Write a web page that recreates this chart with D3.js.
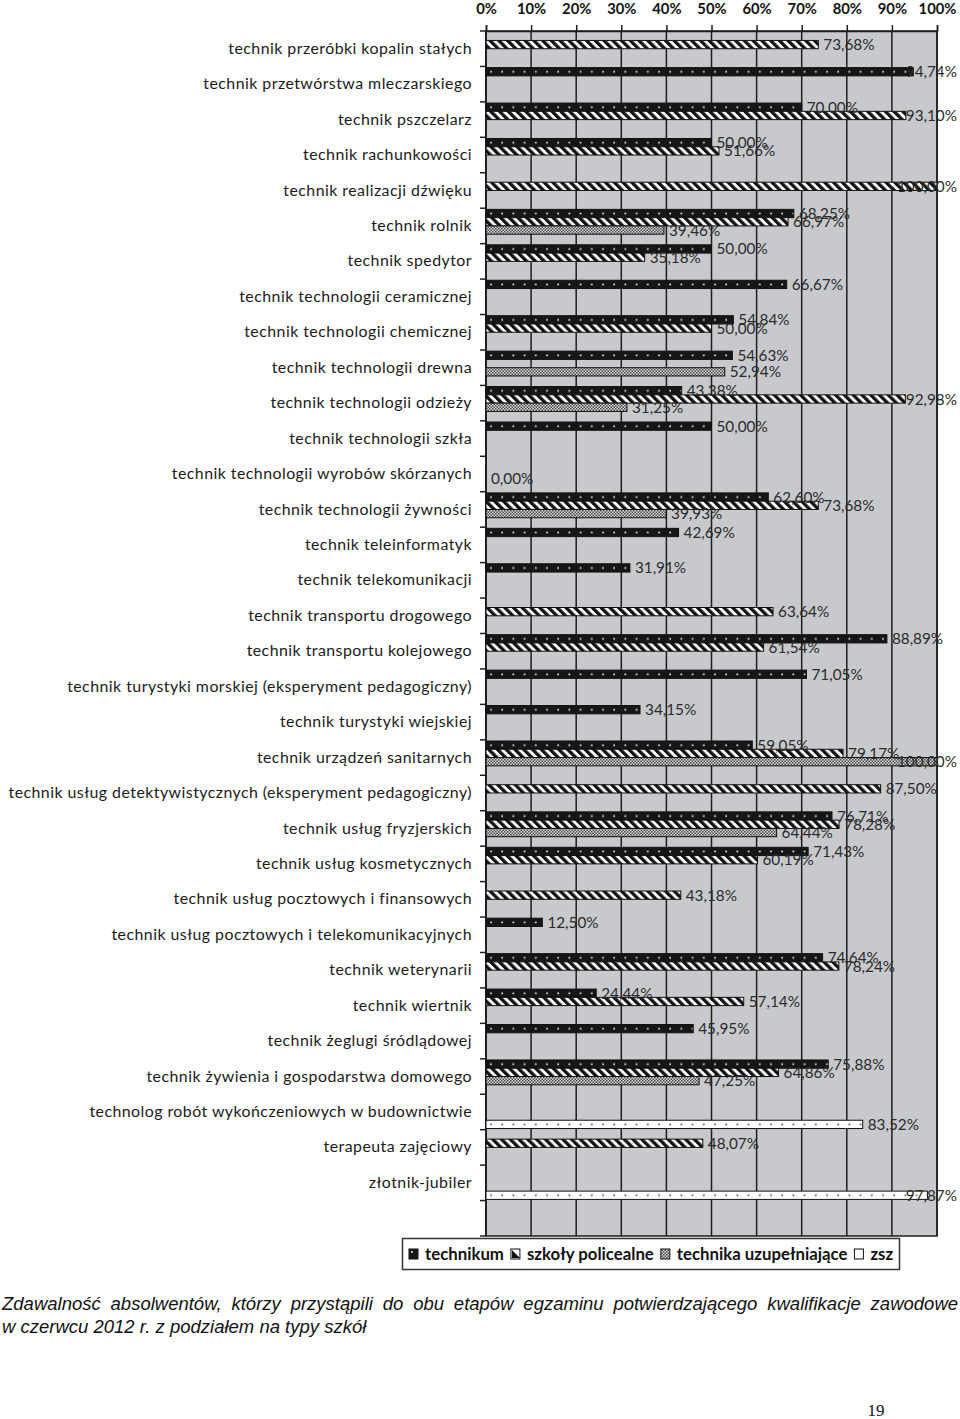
<!DOCTYPE html>
<html><head><meta charset="utf-8">
<script src="https://cdn.jsdelivr.net/npm/d3@7"></script>
<style>
html,body{margin:0;padding:0;background:#fff;}
svg{display:block;}
</style></head>
<body>
<svg id="chart" width="960" height="1419"></svg>
<script>
// ---------- DATA ----------
const categories = [
 "technik przeróbki kopalin stałych",
 "technik przetwórstwa mleczarskiego",
 "technik pszczelarz",
 "technik rachunkowości",
 "technik realizacji dźwięku",
 "technik rolnik",
 "technik spedytor",
 "technik technologii ceramicznej",
 "technik technologii chemicznej",
 "technik technologii drewna",
 "technik technologii odzieży",
 "technik technologii szkła",
 "technik technologii wyrobów skórzanych",
 "technik technologii żywności",
 "technik teleinformatyk",
 "technik telekomunikacji",
 "technik transportu drogowego",
 "technik transportu kolejowego",
 "technik turystyki morskiej (eksperyment pedagogiczny)",
 "technik turystyki wiejskiej",
 "technik urządzeń sanitarnych",
 "technik usług detektywistycznych (eksperyment pedagogiczny)",
 "technik usług fryzjerskich",
 "technik usług kosmetycznych",
 "technik usług pocztowych i finansowych",
 "technik usług pocztowych i telekomunikacyjnych",
 "technik weterynarii",
 "technik wiertnik",
 "technik żeglugi śródlądowej",
 "technik żywienia i gospodarstwa domowego",
 "technolog robót wykończeniowych w budownictwie",
 "terapeuta zajęciowy",
 "złotnik-jubiler",
 ""
];
const seriesNames = ["technikum","szkoły policealne","technika uzupełniające","zsz"];
const technikum = [null,94.74,70.00,50.00,null,68.25,50.00,66.67,54.84,54.63,43.38,50.00,null,62.60,42.69,31.91,null,88.89,71.05,34.15,59.05,null,76.71,71.43,null,12.50,74.64,24.44,45.95,75.88,null,null,null,null];
const policealne = [73.68,null,93.10,51.66,100.00,66.97,35.18,null,50.00,null,92.98,null,null,73.68,null,null,63.64,61.54,null,null,79.17,87.50,78.28,60.19,43.18,null,78.24,57.14,null,64.86,null,48.07,null,null];
const uzupelniajace = [null,null,null,null,null,39.46,null,null,null,52.94,31.25,null,0.00,39.93,null,null,null,null,null,null,100.00,null,64.44,null,null,null,null,null,null,47.25,null,null,null,null];
const zsz = [null,null,null,null,null,null,null,null,null,null,null,null,null,null,null,null,null,null,null,null,null,null,null,null,null,null,null,null,null,null,83.52,null,97.87,null];
const xTicks = [0,10,20,30,40,50,60,70,80,90,100];
const captionLines = [
 "Zdawalność absolwentów, którzy przystąpili do obu etapów egzaminu potwierdzającego kwalifikacje zawodowe",
 "w czerwcu 2012 r. z podziałem na typy szkół"
];
const pageNumber = "19";

// ---------- LAYOUT ----------
const svg = d3.select("#chart");
const L = 486, R = 937, T = 31, B = 1236;
const x = d3.scaleLinear().domain([0,100]).range([L,R]);
const y = d3.scaleBand().domain(categories.map((c,i)=>i)).range([T,B]).paddingInner(0).paddingOuter(0);
const inner = d3.scaleBand().domain(seriesNames).range([0,y.bandwidth()]).paddingInner(0).paddingOuter(0.14);
const seriesData = [technikum, policealne, uzupelniajace, zsz];
const labelFont = "Lato, 'Open Sans', sans-serif";

const defs = svg.append("defs");
function rowDots(id, bg, dot, sName){
  const p = defs.append("pattern").attr("id",id).attr("patternUnits","userSpaceOnUse")
    .attr("x",L+3).attr("y",T).attr("width",11.2).attr("height",y.step());
  p.append("rect").attr("width",11.2).attr("height",y.step()).attr("fill",bg);
  p.append("circle").attr("cx",2).attr("cy",inner(sName)+inner.bandwidth()/2).attr("r",0.9).attr("fill",dot);
}
rowDots("pTech","#161616","#ffffff","technikum");
rowDots("pZsz","#ffffff","#333333","zsz");
const ps = defs.append("pattern").attr("id","pPol").attr("patternUnits","userSpaceOnUse")
  .attr("width",6.2).attr("height",10).attr("patternTransform","rotate(-45)");
ps.append("rect").attr("width",6.2).attr("height",10).attr("fill","#fff");
ps.append("rect").attr("width",3.3).attr("height",10).attr("fill","#111");
const pc = defs.append("pattern").attr("id","pUzu").attr("patternUnits","userSpaceOnUse")
  .attr("width",3).attr("height",3);
pc.append("rect").attr("width",3).attr("height",3).attr("fill","#dedede");
pc.append("rect").attr("x",0).attr("y",0).attr("width",1.5).attr("height",1.5).attr("fill","#444");
pc.append("rect").attr("x",1.5).attr("y",1.5).attr("width",1.5).attr("height",1.5).attr("fill","#444");
const fills = ["url(#pTech)","url(#pPol)","url(#pUzu)","url(#pZsz)"];

svg.append("rect").attr("x",L).attr("y",T).attr("width",R-L).attr("height",B-T)
  .attr("fill","#c8c9cc");
svg.append("g").selectAll("line").data(xTicks).join("line")
  .attr("x1",d=>x(d)).attr("x2",d=>x(d)).attr("y1",T).attr("y2",B)
  .attr("stroke","#1e1e1e").attr("stroke-width",1.5);
svg.append("rect").attr("x",L).attr("y",T).attr("width",R-L).attr("height",B-T)
  .attr("fill","none").attr("stroke","#1e1e1e").attr("stroke-width",1.5);

const xAxis = d3.axisTop(x).tickValues(xTicks).tickFormat(d=>d+"%").tickSize(6).tickPadding(11);
const gx = svg.append("g").attr("transform",`translate(0,${T})`).call(xAxis);
gx.select(".domain").attr("stroke","#1e1e1e").attr("stroke-width",1.5);
gx.selectAll(".tick line").attr("stroke","#1e1e1e").attr("stroke-width",1.5);
gx.selectAll("text").attr("font-family",labelFont).attr("font-weight","bold")
  .attr("font-size",14.8).attr("fill","#111");

const yAxis = d3.axisLeft(y).tickFormat(i=>categories[i]).tickSize(0).tickPadding(14);
const gy = svg.append("g").attr("transform",`translate(${L},0)`).call(yAxis);
gy.select(".domain").remove();
gy.selectAll("text").attr("font-family",labelFont).attr("font-size",15.9)
  .attr("fill","#1a1a1a").attr("letter-spacing","0.46px");
const bounds = categories.map((c,i)=>y(i)).concat([B]);
svg.append("g").selectAll("line").data(bounds).join("line")
  .attr("x1",L-6).attr("x2",L).attr("y1",d=>d).attr("y2",d=>d)
  .attr("stroke","#1e1e1e").attr("stroke-width",1.5);
svg.append("line").attr("x1",L).attr("x2",L).attr("y1",T).attr("y2",B)
  .attr("stroke","#1e1e1e").attr("stroke-width",1.5);

const bars = [];
seriesData.forEach((arr,s)=>{
  arr.forEach((v,i)=>{ if(v!==null) bars.push({s, i, v}); });
});
svg.append("g").selectAll("rect").data(bars).join("rect")
  .attr("x",x(0)).attr("y",d=>y(d.i)+inner(seriesNames[d.s]))
  .attr("width",d=>x(d.v)-x(0)).attr("height",inner.bandwidth())
  .attr("fill",d=>fills[d.s]).attr("stroke",d=>d.v>0?"#111":"none").attr("stroke-width",1);

const fmt = v => v.toFixed(2).replace(".",",")+"%";
svg.append("g").selectAll("text").data(bars).join("text")
  .attr("font-family",labelFont).attr("font-size",15.3).attr("fill","#2b2b2b")
  .attr("y",d=>y(d.i)+inner(seriesNames[d.s])+inner.bandwidth()/2)
  .attr("dy","0.36em")
  .text(d=>fmt(d.v))
  .attr("x",function(d){
    const w = this.getComputedTextLength();
    return Math.min(x(d.v)+5, 957-w);
  });

// legend
const lg = svg.append("g");
lg.append("rect").attr("x",402.5).attr("y",1238.5).attr("width",497).attr("height",31)
  .attr("fill","#fff").attr("stroke","#333").attr("stroke-width",1.5);
let lx = 409;
const legendFills = ["#161616","#fff","url(#pUzu)","#fff"];
seriesNames.forEach((n,k)=>{
  const g = lg.append("g");
  g.append("rect").attr("x",lx).attr("y",1249).attr("width",9).attr("height",10)
    .attr("fill",legendFills[k]).attr("stroke","#111").attr("stroke-width",1);
  if(k===0) g.append("circle").attr("cx",lx+3).attr("cy",1252).attr("r",0.9).attr("fill","#fff");
  if(k===1) g.append("path").attr("d",`M${lx+1},${1250} L${lx+9},${1258} L${lx+1},${1258} Z`).attr("fill","#111");
  const t = g.append("text").attr("x",lx+16).attr("y",1260)
    .attr("font-family",labelFont).attr("font-weight","bold").attr("font-size",16.8)
    .attr("fill","#111").text(n);
  lx += 16 + t.node().getComputedTextLength() + 7;
});

// caption
const capFont = "'Liberation Sans Narrow','Arial Narrow','Liberation Sans',Arial,sans-serif";
const c1 = svg.append("text").attr("x",2).attr("y",1310).attr("font-family",capFont)
  .attr("font-style","italic").attr("font-size",18.5).attr("fill","#111").text(captionLines[0]);
const w1 = c1.node().getComputedTextLength();
const spaces = captionLines[0].split(" ").length-1;
c1.attr("word-spacing", ((956-w1)/spaces).toFixed(2)+"px");
svg.append("text").attr("x",2).attr("y",1333).attr("font-family",capFont)
  .attr("font-style","italic").attr("font-size",18.5).attr("fill","#111").text(captionLines[1]);

svg.append("text").attr("x",876).attr("y",1416).attr("text-anchor","middle")
  .attr("font-family","'Liberation Serif','Times New Roman',serif").attr("font-size",17)
  .attr("fill","#111").text(pageNumber);
</script>
</body></html>
